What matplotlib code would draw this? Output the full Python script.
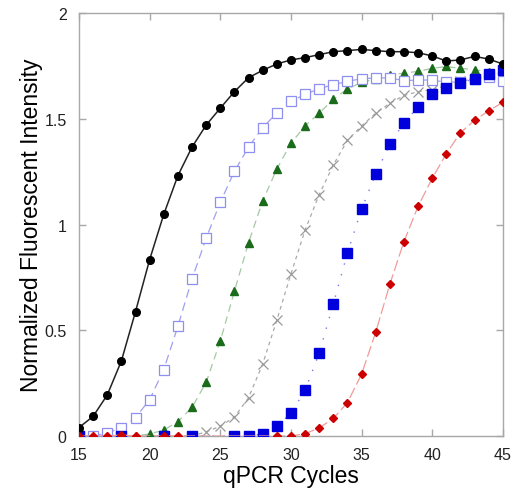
import numpy as np
import matplotlib
matplotlib.use("Agg")
import matplotlib.pyplot as plt

plt.rcParams['font.family'] = ['Liberation Sans', 'DejaVu Sans']

cycles = np.arange(15, 46)

black = [0.04, 0.093, 0.194, 0.355, 0.588, 0.834, 1.048, 1.231, 1.366, 1.47,
         1.55, 1.628, 1.694, 1.729, 1.759, 1.778, 1.789, 1.803, 1.817, 1.822,
         1.828, 1.822, 1.817, 1.817, 1.812, 1.797, 1.773, 1.778, 1.795, 1.782,
         1.759]
light_blue = [0.0, 0.0, 0.014, 0.04, 0.087, 0.172, 0.314, 0.519, 0.742, 0.935,
              1.105, 1.251, 1.366, 1.458, 1.527, 1.582, 1.615, 1.642, 1.661, 1.677,
              1.689, 1.693, 1.693, 1.68, 1.683, 1.683, 1.672, 1.675, 1.69, 1.695,
              1.68]
green = [0.0, 0.0, 0.0, 0.0, 0.0, 0.01, 0.028, 0.068, 0.135, 0.254,
         0.449, 0.684, 0.914, 1.111, 1.262, 1.384, 1.466, 1.526, 1.592, 1.641,
         1.672, 1.688, 1.707, 1.716, 1.724, 1.738, 1.747, 1.738, 1.732, 1.72,
         1.71]
gray = [0.0, 0.0, 0.0, 0.0, 0.0, 0.0, 0.0, 0.0, 0.0, 0.02,
        0.046, 0.09, 0.181, 0.34, 0.547, 0.766, 0.973, 1.141, 1.281, 1.398,
        1.466, 1.526, 1.573, 1.61, 1.628, 1.638, 1.655, 1.68, 1.69, 1.695,
        1.69]
blue = [0.0, 0.0, 0.0, 0.0, 0.0, 0.0, 0.0, 0.0, 0.0, 0.0,
        0.0, 0.0, 0.0, 0.01, 0.046, 0.107, 0.216, 0.391, 0.624, 0.865,
        1.073, 1.239, 1.379, 1.481, 1.556, 1.615, 1.646, 1.668, 1.689, 1.713,
        1.731]
red = [0.0, 0.0, 0.0, 0.005, 0.0, 0.0, 0.0, 0.0, 0.0, 0.0,
       0.0, 0.0, 0.0, 0.0, 0.0, 0.0, 0.011, 0.038, 0.083, 0.158,
       0.292, 0.49, 0.717, 0.919, 1.086, 1.218, 1.335, 1.434, 1.493, 1.537,
       1.578]

# cycles where the markers show up in the original
gray_marks = [i for i in range(31) if i >= 9]
blue_marks = [0, 3, 6, 8] + list(range(11, 31))
red_marks = [0, 1, 2, 3, 4, 6, 7] + list(range(14, 31))

fig = plt.figure(figsize=(5.11, 4.89), dpi=100)
ax = fig.add_axes([0.1546, 0.1063, 0.8294, 0.8651])

ax.plot(cycles, gray, color='#aaaaaa', lw=0.9, ls=(0, (3, 3)),
        marker='x', ms=6.5, mew=0.9, mec='#999999', markevery=gray_marks, zorder=2)
ax.plot(cycles, green, color='#a3c9a3', lw=0.9, ls=(0, (6, 4)),
        marker='^', ms=6, mfc='#1a6b1a', mec='#1a6b1a', zorder=3)
ax.plot(cycles, light_blue, color='#a0a0f0', lw=0.9, ls=(0, (7, 4)),
        marker='s', ms=6.5, mfc='white', mec='#8f8fef', mew=0.9, zorder=4)
ax.plot(cycles, blue, color='#7777ee', lw=1.0, ls=(0, (1, 7)),
        marker='s', ms=6.5, mfc='#0000dd', mec='#0000dd', markevery=blue_marks, zorder=5)
ax.plot(cycles, black, color='#222222', lw=1.1, ls='-',
        marker='o', ms=5.5, mfc='black', mec='black', zorder=6)
ax.plot(cycles, red, color='#f29a9a', lw=0.9, ls=(0, (9, 3)),
        marker='D', ms=4, mfc='#cc0000', mec='#cc0000', markevery=red_marks, zorder=7)

ax.set_xlim(15, 45)
ax.set_ylim(0, 2)
ax.set_xticks([15, 20, 25, 30, 35, 40, 45])
ax.set_yticks([0, 0.5, 1, 1.5, 2])
ax.set_yticklabels(['0', '0.5', '1', '1.5', '2'])

for s in ax.spines.values():
    s.set_color('#a8a8a8')
    s.set_linewidth(1.0)
ax.tick_params(direction='in', top=True, right=True, length=5, width=1,
               color='#a8a8a8', labelsize=11.5, labelcolor='#222222')
ax.tick_params(axis='x', pad=8)
ax.tick_params(axis='y', pad=9)

ax.set_xlabel('qPCR Cycles', fontsize=16.5, labelpad=1)
ax.set_ylabel('Normalized Fluorescent Intensity', fontsize=16.5, labelpad=1)

fig.savefig('out.png', dpi=100)
